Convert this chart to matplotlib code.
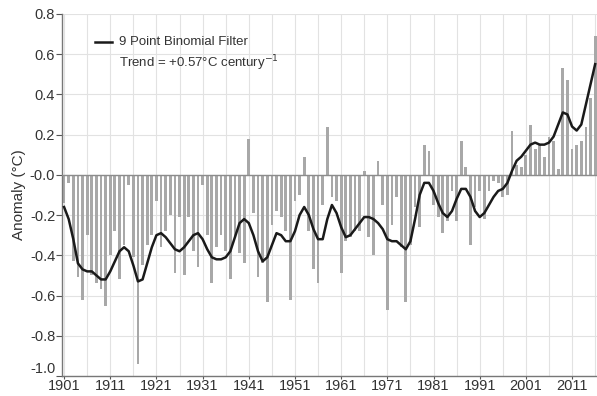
import numpy as np
import matplotlib.pyplot as plt

plt.rcParams['font.family'] = ['Liberation Sans', 'DejaVu Sans']

years = np.arange(1901, 2017)

# annual anomalies (degC)
anomaly = [
    -0.14, -0.04, -0.43, -0.51, -0.62, -0.30, -0.50, -0.54, -0.57, -0.65,
    -0.40, -0.28, -0.52, -0.35, -0.05, -0.41, -0.94, -0.45, -0.35, -0.30,
    -0.13, -0.36, -0.28, -0.20, -0.49, -0.21, -0.50, -0.21, -0.38, -0.46,
    -0.05, -0.30, -0.54, -0.36, -0.30, -0.38, -0.52, -0.31, -0.39, -0.44,
    0.18, -0.19, -0.51, -0.44, -0.63, -0.25, -0.18, -0.21, -0.28, -0.62,
    -0.13, -0.10, 0.09, -0.28, -0.47, -0.54, -0.15, 0.24, -0.11, -0.13,
    -0.49, -0.33, -0.31, -0.28, -0.28, 0.02, -0.31, -0.40, 0.07, -0.15,
    -0.67, -0.25, -0.11, -0.36, -0.63, -0.35, -0.16, -0.26, 0.15, 0.12,
    -0.15, -0.21, -0.29, -0.23, -0.08, -0.23, 0.17, 0.04, -0.35, -0.16,
    -0.08, -0.22, -0.08, -0.03, -0.04, -0.11, -0.10, 0.22, 0.05, 0.04,
    0.10, 0.25, 0.13, 0.15, 0.09, 0.19, 0.17, 0.03, 0.53, 0.47,
    0.13, 0.15, 0.17, 0.24, 0.38, 0.69,
]

# 9 point binomial filter curve
smooth = [
    -0.16, -0.22, -0.32, -0.44, -0.47, -0.48, -0.48, -0.50, -0.52, -0.52,
    -0.48, -0.43, -0.38, -0.36, -0.38, -0.45, -0.53, -0.52, -0.44, -0.36,
    -0.30, -0.29, -0.31, -0.34, -0.37, -0.38, -0.36, -0.33, -0.30, -0.29,
    -0.32, -0.37, -0.41, -0.42, -0.42, -0.41, -0.38, -0.31, -0.24, -0.22,
    -0.24, -0.30, -0.38, -0.43, -0.41, -0.35, -0.29, -0.30, -0.33, -0.33,
    -0.28, -0.20, -0.16, -0.20, -0.27, -0.32, -0.32, -0.22, -0.15, -0.19,
    -0.26, -0.31, -0.30, -0.27, -0.24, -0.21, -0.21, -0.22, -0.24, -0.27,
    -0.32, -0.33, -0.33, -0.35, -0.37, -0.33, -0.22, -0.10, -0.04, -0.04,
    -0.08, -0.14, -0.19, -0.21, -0.18, -0.12, -0.07, -0.07, -0.11, -0.18,
    -0.21, -0.19, -0.15, -0.11, -0.08, -0.07, -0.04, 0.02, 0.07, 0.09,
    0.12, 0.15, 0.16, 0.15, 0.15, 0.16, 0.19, 0.25, 0.31, 0.30,
    0.24, 0.22, 0.25, 0.35, 0.45, 0.55,
]

label_years = np.arange(1901, 2012, 10)

fig = plt.figure(figsize=(5.97, 3.96), dpi=100)
ax = fig.add_axes([0.104, 0.0505, 0.896, 0.9145])

ax.bar(years, anomaly, width=0.6, color='#a8a8a8', zorder=2)
ax.axhline(0, color='#8c8c8c', lw=1.0, zorder=3)
ax.plot(years, smooth, color='#1a1a1a', lw=1.8, zorder=4)

ax.set_xlim(1900.57, 2016.4)
ax.set_ylim(-1.0, 0.8)
ax.set_yticks(np.arange(-1.0, 0.81, 0.2))
ax.set_yticklabels(['%.1f' % v for v in np.arange(-1.0, 0.81, 0.2)])
ax.set_xticks(label_years)
ax.set_xticklabels([str(y) for y in label_years])
ax.set_xticks(np.arange(1901, 2017, 5), minor=True)

# lift the bottom y label a little so it clears "1901"
ax.get_yticklabels()[0].set_verticalalignment('bottom')

ax.grid(True, which='both', axis='x', color='#e2e2e2', lw=0.8, zorder=0)
ax.grid(True, which='major', axis='y', color='#e2e2e2', lw=0.8, zorder=0)

for s in ['top', 'right']:
    ax.spines[s].set_visible(False)
for s in ['left', 'bottom']:
    ax.spines[s].set_color('#777777')
    ax.spines[s].set_linewidth(1.0)

ax.tick_params(axis='y', which='major', labelsize=10.5, colors='#555555',
               labelcolor='#333333', length=4, pad=1)
ax.tick_params(axis='x', which='major', labelsize=10.5, colors='#555555',
               labelcolor='#333333', length=2, pad=0.5)
ax.tick_params(axis='x', which='minor', length=0)
ax.set_ylabel('Anomaly (°C)', fontsize=11, color='#333333', labelpad=3)

# legend drawn by hand
ax.plot([1907.7, 1911.4], [0.662, 0.662], color='#1a1a1a', lw=1.8, zorder=5)
ax.text(1913.0, 0.662, '9 Point Binomial Filter', fontsize=9.5,
        color='#333333', va='center', zorder=5)
ax.text(1913.0, 0.557, 'Trend = +0.57°C century$^{-1}$', fontsize=9.5,
        color='#333333', va='center', zorder=5)

fig.savefig('out.png', dpi=100)
